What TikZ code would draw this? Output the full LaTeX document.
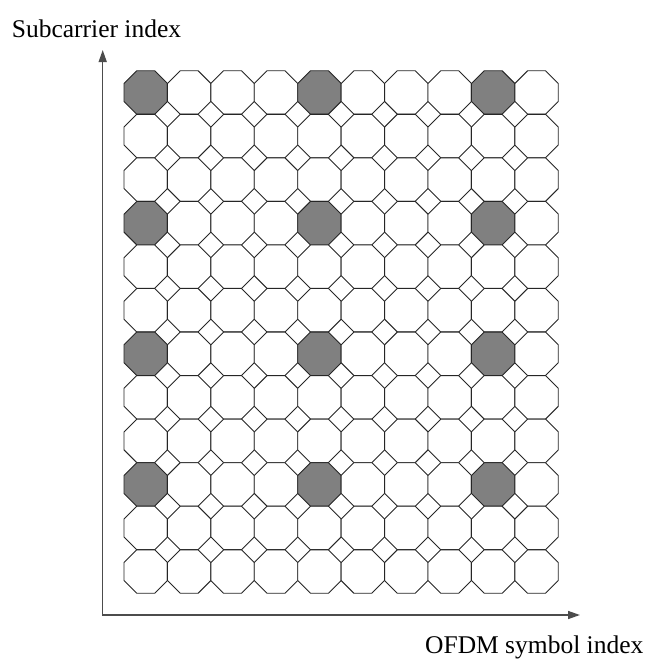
\documentclass[tikz,border=0pt]{standalone}
\usepackage{fontspec}
\setmainfont{Liberation Serif}
\usetikzlibrary{shapes.geometric,arrows.meta}
\begin{document}
\begin{tikzpicture}[x=1pt,y=-1pt,
 oct/.style={regular polygon, regular polygon sides=8, minimum size=47.0pt, inner sep=0pt, outer sep=0pt, draw=black!85, line width=0.9pt},
 axis/.style={draw=black!70, line width=1.4pt, {Triangle[length=12pt,width=8pt]}-{Triangle[length=12pt,width=8pt]}},
 lbl/.style={font=\fontsize{25.5}{30}\selectfont, inner sep=0pt, anchor=base west}]
\useasboundingbox (0,0) rectangle (649,662);
\foreach \r in {0,...,11}{
  \foreach \c in {0,...,9}{
    \pgfmathtruncatemacro{\isp}{(mod(\r,3)==0)&&(mod(\c,4)==0)}
    \ifnum\isp=1 \def\fillc{black!50}\else\def\fillc{white}\fi
    \node[oct, fill=\fillc] (o-\r-\c) at ({124+43.43*(\c+0.5)},{70.7+43.55*(\r+0.5)}) {};
  }
}
\coordinate (O) at (102.7,615);
\coordinate (ytip) at (102.7,50);
\coordinate (xtip) at (580,615);
\draw[axis] (ytip) -- (O) -- (xtip);
\node[lbl] (ylabel) at (11.7,37.3) {Subcarrier index};
\node[lbl] (xlabel) at (425,653) {OFDM symbol index};
\end{tikzpicture}
\end{document}
